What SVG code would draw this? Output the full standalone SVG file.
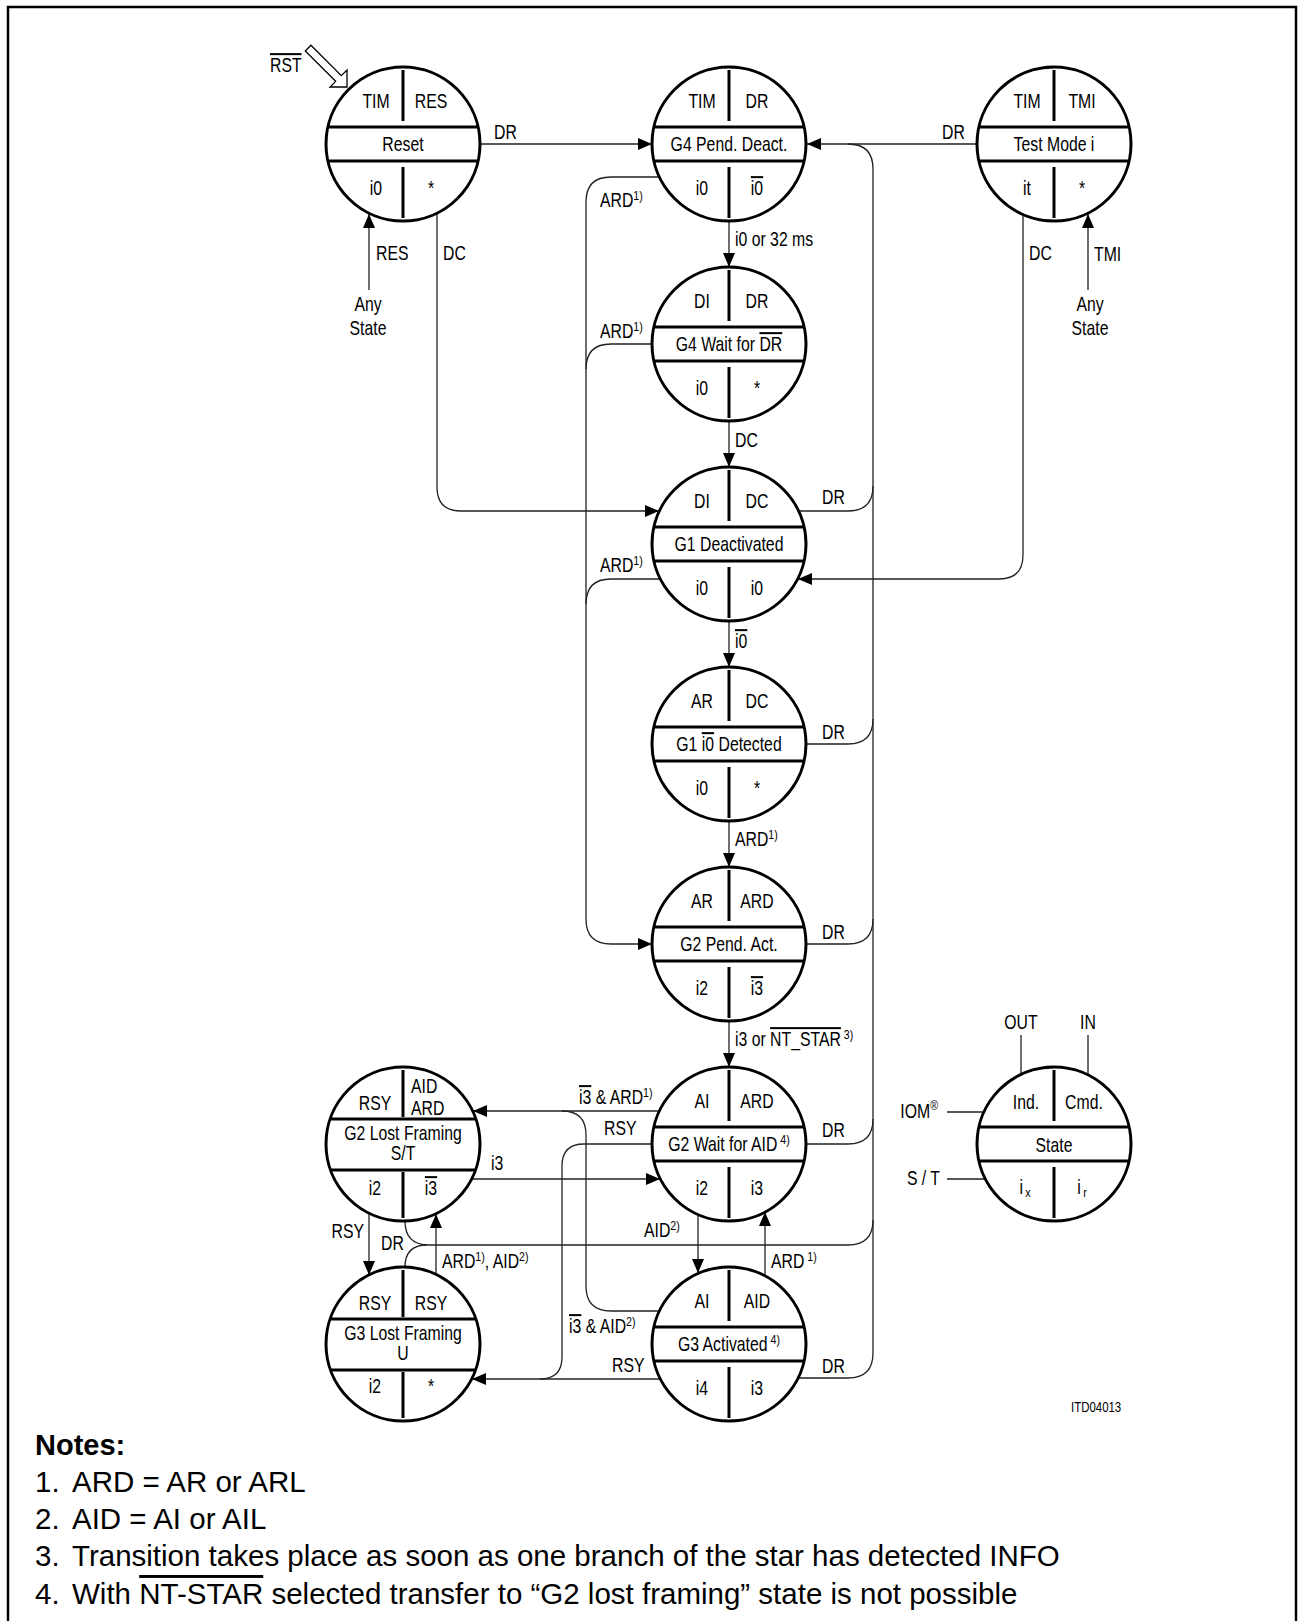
<svg xmlns="http://www.w3.org/2000/svg" width="1298" height="1621" viewBox="0 0 1298 1621">
<style>
text{font-family:"Liberation Sans",Arial,sans-serif;font-size:20px;fill:#000;transform-box:fill-box;transform-origin:0% 50%;transform:scaleX(.79)}
.m{text-anchor:middle;transform-origin:50% 50%}
.e{text-anchor:end;transform-origin:100% 50%}
.ov{text-decoration:overline}
.sup{font-size:13.5px}
.c{fill:#fff;stroke:#000;stroke-width:3}
.d{fill:none;stroke:#000;stroke-width:3}
.w{fill:none;stroke:#222;stroke-width:1.3}
.a{marker-end:url(#ah)}
.note{font-size:29.5px;transform:none}
.nb{font-size:29px;font-weight:bold;transform:none}
.small{font-size:14.5px}
</style>
<defs>
<marker id="ah" markerUnits="userSpaceOnUse" markerWidth="14" markerHeight="12" refX="14" refY="6" orient="auto"><path d="M0,0L14,6L0,12z" fill="#000"/></marker>
<g id="ns"><circle r="77" class="c"/><path class="d" d="M-75.1,-17H75.1M-75.1,17H75.1M0,-74V-23M0,23V74"/></g>
<g id="nl"><circle r="77" class="c"/><path class="d" d="M-72.8,-25H72.8M-72.5,26H72.5M0,-74V-27M0,28V74"/></g>
</defs>
<rect width="1298" height="1621" fill="#fff"/>
<path d="M8,1621V7H1296V1621" fill="none" stroke="#000" stroke-width="2.5"/>

<g id="connectors">
<path class="w a" d="M480,144H652"/>
<path class="w a" d="M977,144H807"/>
<path class="w" d="M873,1353V169Q873,144 848,144"/>
<path class="w a" d="M369,290V214"/>
<path class="w a" d="M437,213V487Q437,511 461,511H659"/>
<path class="w a" d="M1023,214V555Q1023,579 999,579H798"/>
<path class="w a" d="M1088,290V214"/>
<path class="w a" d="M729,221V267"/>
<path class="w a" d="M729,421V467"/>
<path class="w a" d="M729,621V667"/>
<path class="w a" d="M729,821V867"/>
<path class="w a" d="M729,1021V1067"/>
<path class="w a" d="M659,177H611Q586,177 586,202V919Q586,944 611,944H652"/>
<path class="w" d="M652,344H611Q586,344 586,369"/>
<path class="w" d="M660,579H611Q586,579 586,604"/>
<path class="w" d="M799,511H848Q873,511 873,486"/>
<path class="w" d="M806,744H848Q873,744 873,719"/>
<path class="w" d="M806,944H848Q873,944 873,919"/>
<path class="w" d="M806,1144H848Q873,1144 873,1119"/>
<path class="w" d="M798,1378H848Q873,1378 873,1353"/>
<path class="w" d="M405,1221Q405,1245 429,1245H848Q873,1245 873,1220"/>
<path class="w" d="M405,1267Q405,1245 427,1245"/>
<path class="w a" d="M369,1213V1275"/>
<path class="w a" d="M436,1274V1214"/>
<path class="w a" d="M659,1111H473"/>
<path class="w" d="M660,1311H611Q586,1311 586,1286V1135Q586,1111 562,1111"/>
<path class="w" d="M652,1144H584Q562,1144 562,1166V1357Q562,1379 540,1379"/>
<path class="w a" d="M660,1379H472"/>
<path class="w a" d="M698,1215V1273"/>
<path class="w a" d="M765,1276V1212"/>
<path class="w a" d="M472,1179H660"/>
</g>

<g id="rst">
<polygon points="0,0 -12,-12 -12,-4 -55,-4 -55,4 -12,4 -12,12" transform="translate(347,87) rotate(45)" fill="#fff" stroke="#000" stroke-width="1.3"/>
<text x="270" y="72"><tspan class="ov">RST</tspan></text>
</g>

<g id="reset" transform="translate(403,144)"><use href="#ns"/>
<text class="m" x="-27" y="-36">TIM</text><text class="m" x="28" y="-36">RES</text>
<text class="m" y="7">Reset</text>
<text class="m" x="-27" y="51">i0</text><text class="m" x="28" y="51">*</text></g>

<g id="g4pend" transform="translate(729,144)"><use href="#ns"/>
<text class="m" x="-27" y="-36">TIM</text><text class="m" x="28" y="-36">DR</text>
<text class="m" y="7">G4 Pend. Deact.</text>
<text class="m" x="-27" y="51">i0</text><text class="m" x="28" y="51"><tspan class="ov">i0</tspan></text></g>

<g id="testmode" transform="translate(1054,144)"><use href="#ns"/>
<text class="m" x="-27" y="-36">TIM</text><text class="m" x="28" y="-36">TMI</text>
<text class="m" y="7">Test Mode i</text>
<text class="m" x="-27" y="51">it</text><text class="m" x="28" y="51">*</text></g>

<g id="g4wait" transform="translate(729,344)"><use href="#ns"/>
<text class="m" x="-27" y="-36">DI</text><text class="m" x="28" y="-36">DR</text>
<text class="m" y="7">G4 Wait for <tspan class="ov">DR</tspan></text>
<text class="m" x="-27" y="51">i0</text><text class="m" x="28" y="51">*</text></g>

<g id="g1deact" transform="translate(729,544)"><use href="#ns"/>
<text class="m" x="-27" y="-36">DI</text><text class="m" x="28" y="-36">DC</text>
<text class="m" y="7">G1 Deactivated</text>
<text class="m" x="-27" y="51">i0</text><text class="m" x="28" y="51">i0</text></g>

<g id="g1det" transform="translate(729,744)"><use href="#ns"/>
<text class="m" x="-27" y="-36">AR</text><text class="m" x="28" y="-36">DC</text>
<text class="m" y="7">G1 <tspan class="ov">i0</tspan> Detected</text>
<text class="m" x="-27" y="51">i0</text><text class="m" x="28" y="51">*</text></g>

<g id="g2pend" transform="translate(729,944)"><use href="#ns"/>
<text class="m" x="-27" y="-36">AR</text><text class="m" x="28" y="-36">ARD</text>
<text class="m" y="7">G2 Pend. Act.</text>
<text class="m" x="-27" y="51">i2</text><text class="m" x="28" y="51"><tspan class="ov">i3</tspan></text></g>

<g id="g2wait" transform="translate(729,1144)"><use href="#ns"/>
<text class="m" x="-27" y="-36">AI</text><text class="m" x="28" y="-36">ARD</text>
<text class="m" y="7">G2 Wait for AID<tspan class="sup" dy="-7"> 4)</tspan></text>
<text class="m" x="-27" y="51">i2</text><text class="m" x="28" y="51">i3</text></g>

<g id="g3act" transform="translate(729,1344)"><use href="#ns"/>
<text class="m" x="-27" y="-36">AI</text><text class="m" x="28" y="-36">AID</text>
<text class="m" y="7">G3 Activated<tspan class="sup" dy="-7"> 4)</tspan></text>
<text class="m" x="-27" y="51">i4</text><text class="m" x="28" y="51">i3</text></g>

<g id="g2lost" transform="translate(403,1144)"><use href="#nl"/>
<text class="m" x="-28" y="-34">RSY</text>
<text x="8" y="-51">AID</text><text x="8" y="-29">ARD</text>
<text class="m" y="-4">G2 Lost Framing</text><text class="m" y="16">S/T</text>
<text class="m" x="-28" y="51">i2</text><text class="m" x="28" y="51"><tspan class="ov">i3</tspan></text></g>

<g id="g3lost" transform="translate(403,1344)"><use href="#nl"/>
<text class="m" x="-28" y="-34">RSY</text><text class="m" x="28" y="-34">RSY</text>
<text class="m" y="-4">G3 Lost Framing</text><text class="m" y="16">U</text>
<text class="m" x="-28" y="49">i2</text><text class="m" x="28" y="49">*</text></g>

<g id="legend">
<path class="w" d="M1021,1035V1074M1088,1035V1075M947,1112H984M947,1179H985"/>
<text class="m" x="1021" y="1029">OUT</text><text class="m" x="1088" y="1029">IN</text>
<text class="e" x="938" y="1118">IOM<tspan class="sup" dy="-8">®</tspan></text>
<text class="e" x="940" y="1185">S / T</text>
<g transform="translate(1054,1144)"><use href="#ns"/>
<text class="m" x="-28" y="-35">Ind.</text><text class="m" x="30" y="-35">Cmd.</text>
<text class="m" y="8">State</text>
<text class="m" x="-29" y="50">i<tspan class="sup" dx="3" dy="3">x</tspan></text>
<text class="m" x="28" y="50">i<tspan class="sup" dx="3" dy="3">r</tspan></text></g>
</g>

<g id="labels">
<text x="494" y="139">DR</text>
<text x="942" y="139">DR</text>
<text x="376" y="260">RES</text>
<text class="m" x="368" y="311">Any</text><text class="m" x="368" y="335">State</text>
<text x="443" y="260">DC</text>
<text x="1029" y="260">DC</text>
<text x="1094" y="261">TMI</text>
<text class="m" x="1090" y="311">Any</text><text class="m" x="1090" y="335">State</text>
<text x="735" y="246">i0 or 32 ms</text>
<text x="600" y="207">ARD<tspan class="sup" dy="-7">1)</tspan></text>
<text x="600" y="338">ARD<tspan class="sup" dy="-7">1)</tspan></text>
<text x="600" y="572">ARD<tspan class="sup" dy="-7">1)</tspan></text>
<text x="735" y="447">DC</text>
<text x="735" y="648"><tspan class="ov">i0</tspan></text>
<text x="822" y="504">DR</text>
<text x="822" y="739">DR</text>
<text x="822" y="939">DR</text>
<text x="822" y="1137">DR</text>
<text x="822" y="1373">DR</text>
<text x="735" y="846">ARD<tspan class="sup" dy="-7">1)</tspan></text>
<text x="735" y="1046">i3 or <tspan class="ov">NT_STAR</tspan><tspan class="sup" dy="-7"> 3)</tspan></text>
<text x="579" y="1104"><tspan class="ov">i3</tspan> &amp; ARD<tspan class="sup" dy="-7">1)</tspan></text>
<text x="604" y="1135">RSY</text>
<text x="491" y="1170">i3</text>
<text class="e" x="364" y="1238">RSY</text>
<text x="381" y="1250">DR</text>
<text x="442" y="1268">ARD<tspan class="sup" dy="-7">1)</tspan><tspan dy="7">, AID</tspan><tspan class="sup" dy="-7">2)</tspan></text>
<text x="644" y="1237">AID<tspan class="sup" dy="-7">2)</tspan></text>
<text x="771" y="1268">ARD<tspan class="sup" dy="-7"> 1)</tspan></text>
<text x="569" y="1333"><tspan class="ov">i3</tspan> &amp; AID<tspan class="sup" dy="-7">2)</tspan></text>
<text x="612" y="1372">RSY</text>
<text class="small" x="1071" y="1412">ITD04013</text>
</g>

<g id="notes">
<text class="nb" x="35" y="1455">Notes:</text>
<text class="note" x="35" y="1492">1.</text><text class="note" x="72" y="1492">ARD = AR or ARL</text>
<text class="note" x="35" y="1529">2.</text><text class="note" x="72" y="1529">AID = AI or AIL</text>
<text class="note" x="35" y="1566">3.</text><text class="note" x="72" y="1566">Transition takes place as soon as one branch of the star has detected INFO</text>
<text class="note" x="35" y="1604">4.</text><text class="note" x="72" y="1604">With <tspan class="ov">NT-STAR</tspan> selected transfer to “G2 lost framing” state is not possible</text>
</g>
</svg>
